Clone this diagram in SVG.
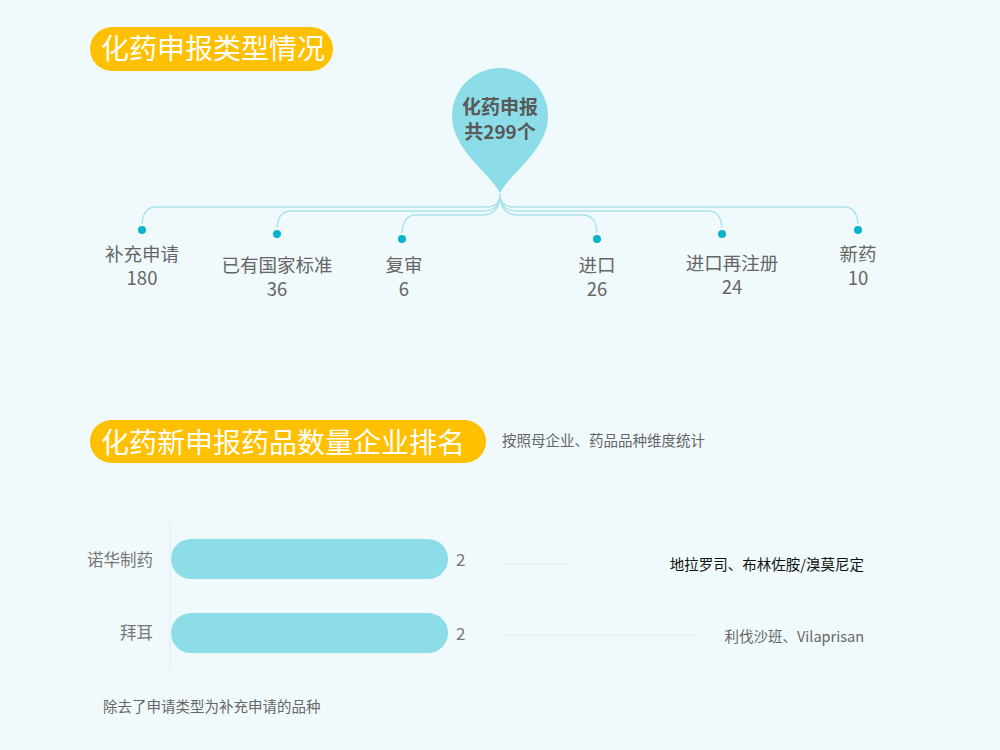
<svg xmlns="http://www.w3.org/2000/svg" width="1000" height="750" viewBox="0 0 1000 750">
<style>
.bg{fill:#F0F9FB}
.pill{fill:#FFC000}
.title{font-family:"Noto Sans CJK SC","Liberation Sans",sans-serif;font-size:28px;fill:#FFFFFF}
.lbl{font-family:"Noto Sans CJK SC","Liberation Sans",sans-serif;font-size:18.5px;fill:#666666;text-anchor:middle}
.small{font-family:"Noto Sans CJK SC","Liberation Sans",sans-serif;font-size:14.5px;fill:#666666}
.conn{fill:none;stroke:#A9E3EC;stroke-width:1.3}
.dot{fill:#0AB2CA}
.bar{fill:#8DDDE8}
.cat{font-family:"Noto Sans CJK SC","Liberation Sans",sans-serif;font-size:16.5px;fill:#777777;text-anchor:end}
.val{font-family:"Noto Sans CJK SC","Liberation Sans",sans-serif;font-size:17px;fill:#777777}
.lead{stroke:#E2EEF1;stroke-width:1}
.pint{font-family:"Noto Sans CJK SC","Liberation Sans",sans-serif;font-size:19px;font-weight:bold;fill:#595959;text-anchor:middle}
</style>
<rect class="bg" x="0" y="0" width="1000" height="750"/>

<g id="title1">
<rect class="pill" x="90" y="27" width="243" height="44" rx="22"/>
<text class="title" x="101" y="59">化药申报类型情况</text>
</g>

<g id="connectors">
<path class="conn" d="M500,194 C500,202 496,207 486,207 L156,207 Q143,207 142,224"/>
<path class="conn" d="M500,194 C500,204 496,211 484,211 L291,211 Q278,211 277,228"/>
<path class="conn" d="M500,194 C500,206 496,215 482,215 L416,215 Q403,215 402,233"/>
<path class="conn" d="M500,194 C500,206 504,215 518,215 L583,215 Q596,215 597,233"/>
<path class="conn" d="M500,194 C500,204 504,211 516,211 L708,211 Q721,211 722,228"/>
<path class="conn" d="M500,194 C500,202 504,207 514,207 L844,207 Q857,207 858,224"/>
</g>

<g id="pin">
<path class="bar" d="M500,193 C490,173 452,150 452,116 A48,48 0 1 1 548,116 C548,150 510,173 500,193 Z"/>
<text class="pint" x="500" y="114">化药申报</text>
<text class="pint" x="500" y="139">共299个</text>
</g>

<g id="n1"><circle class="dot" cx="142" cy="230" r="4"/><text class="lbl" x="142" y="261">补充申请</text><text class="lbl" x="142" y="285">180</text></g>
<g id="n2"><circle class="dot" cx="277" cy="234" r="4"/><text class="lbl" x="277" y="272">已有国家标准</text><text class="lbl" x="277" y="296">36</text></g>
<g id="n3"><circle class="dot" cx="402" cy="239" r="4"/><text class="lbl" x="404" y="272">复审</text><text class="lbl" x="404" y="296">6</text></g>
<g id="n4"><circle class="dot" cx="597" cy="239" r="4"/><text class="lbl" x="597" y="272">进口</text><text class="lbl" x="597" y="296">26</text></g>
<g id="n5"><circle class="dot" cx="722" cy="234" r="4"/><text class="lbl" x="732" y="270">进口再注册</text><text class="lbl" x="732" y="294">24</text></g>
<g id="n6"><circle class="dot" cx="858" cy="230" r="4"/><text class="lbl" x="858" y="261">新药</text><text class="lbl" x="858" y="285">10</text></g>

<g id="title2">
<rect class="pill" x="90" y="420" width="396" height="43" rx="21.5"/>
<text class="title" x="101" y="453">化药新申报药品数量企业排名</text>
<text class="small" x="502" y="446">按照母企业、药品品种维度统计</text>
</g>

<g id="chart">
<line x1="170" y1="522" x2="170" y2="670" stroke="#E3EDEF" stroke-width="1.2"/>
<g id="bar1">
<rect class="bar" x="171" y="539" width="277" height="40" rx="20"/>
<text class="cat" x="153" y="566">诺华制药</text>
<text class="val" x="456" y="566">2</text>
<line class="lead" x1="500" y1="564" x2="572" y2="564"/>
<text x="864" y="570" text-anchor="end" font-family="Noto Sans CJK SC, Liberation Sans, sans-serif" font-size="14.5" fill="#111111">地拉罗司、布林佐胺/溴莫尼定</text>
</g>
<g id="bar2">
<rect class="bar" x="171" y="613" width="277" height="40" rx="20"/>
<text class="cat" x="153" y="639">拜耳</text>
<text class="val" x="456" y="640">2</text>
<line class="lead" x1="500" y1="635" x2="697" y2="635"/>
<text class="small" x="864" y="642" text-anchor="end">利伐沙班、Vilaprisan</text>
</g>
</g>

<text class="small" x="103" y="712">除去了申请类型为补充申请的品种</text>
</svg>
